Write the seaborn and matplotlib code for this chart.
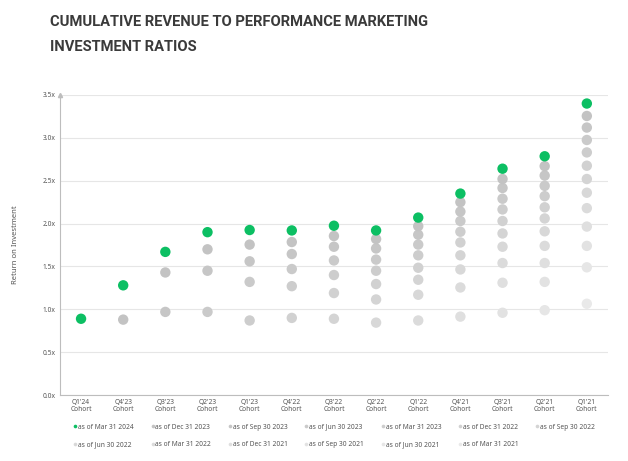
import matplotlib
matplotlib.use("Agg")
import matplotlib.pyplot as plt
import matplotlib.colors as mcolors
import numpy as np
import pandas as pd
import seaborn as sns

# cohorts (left to right) and snapshot dates (newest first)
cohorts = ["Q1'24", "Q4'23", "Q3'23", "Q2'23", "Q1'23", "Q4'22", "Q3'22",
           "Q2'22", "Q1'22", "Q4'21", "Q3'21", "Q2'21", "Q1'21"]
snapshots = ["as of Mar 31 2024", "as of Dec 31 2023", "as of Sep 30 2023",
             "as of Jun 30 2023", "as of Mar 31 2023", "as of Dec 31 2022",
             "as of Sep 30 2022", "as of Jun 30 2022", "as of Mar 31 2022",
             "as of Dec 31 2021", "as of Sep 30 2021", "as of Jun 30 2021",
             "as of Mar 31 2021"]

# ROI per cohort, newest snapshot first
roi_q1_24 = [0.89]
roi_q4_23 = [1.28, 0.88]
roi_q3_23 = [1.67, 1.43, 0.97]
roi_q2_23 = [1.90, 1.70, 1.45, 0.97]
roi_q1_23 = [1.925, 1.755, 1.56, 1.32, 0.87]
roi_q4_22 = [1.92, 1.785, 1.645, 1.47, 1.27, 0.90]
roi_q3_22 = [1.975, 1.855, 1.73, 1.57, 1.40, 1.19, 0.89]
roi_q2_22 = [1.92, 1.82, 1.71, 1.58, 1.45, 1.295, 1.115, 0.845]
roi_q1_22 = [2.07, 1.97, 1.87, 1.755, 1.63, 1.485, 1.345, 1.17, 0.87]
roi_q4_21 = [2.35, 2.25, 2.14, 2.03, 1.905, 1.78, 1.63, 1.465, 1.255, 0.915]
roi_q3_21 = [2.64, 2.52, 2.415, 2.29, 2.165, 2.03, 1.885, 1.73, 1.54, 1.31, 0.96]
roi_q2_21 = [2.785, 2.67, 2.56, 2.44, 2.32, 2.19, 2.06, 1.91, 1.74, 1.54, 1.32, 0.99]
roi_q1_21 = [3.40, 3.255, 3.12, 2.975, 2.83, 2.675, 2.52, 2.36, 2.18, 1.965,
             1.74, 1.49, 1.065]

roi_lists = [roi_q1_24, roi_q4_23, roi_q3_23, roi_q2_23, roi_q1_23, roi_q4_22,
             roi_q3_22, roi_q2_22, roi_q1_22, roi_q4_21, roi_q3_21, roi_q2_21,
             roi_q1_21]

rows = []
for cohort, vals in zip(cohorts, roi_lists):
    for i, v in enumerate(vals):
        rows.append({"cohort": cohort, "snapshot": snapshots[i], "snap_idx": i, "roi": v})
df = pd.DataFrame(rows)
df["cx"] = df["cohort"].map({c: i for i, c in enumerate(cohorts)})
# oldest drawn first so the newest ends up on top
df = df.sort_values("snap_idx", ascending=False)

green = "#0cbf63"
grays = [mcolors.to_hex(c) for c in
         np.linspace(mcolors.to_rgb("#c3c3c3"), mcolors.to_rgb("#e9e9e9"), 12)]
palette = dict(zip(snapshots, [green] + grays))

sns.set_style("white")
plt.rcParams['font.family'] = ['Noto Sans', 'DejaVu Sans']

fig = plt.figure(figsize=(6.28, 4.61), dpi=100)
ax = fig.add_axes([0.0955, 0.143, 0.8725, 0.651])

sns.scatterplot(data=df, x="cx", y="roi", hue="snapshot", hue_order=snapshots,
                palette=palette, s=56, linewidth=0, ax=ax, legend=True, zorder=3)

ax.set_xlim(-0.5, 12.5)
ax.set_ylim(0, 3.5)
ax.set_yticks(np.arange(0, 3.51, 0.5))
ax.set_yticklabels([f"{t:.1f}x" for t in np.arange(0, 3.51, 0.5)],
                   fontsize=4.8, color="#555555")
ax.set_xticks(range(len(cohorts)))
ax.set_xticklabels([f"{c}\nCohort" for c in cohorts], fontsize=4.8,
                   color="#555555", linespacing=1.0)
ax.tick_params(axis="both", length=0, pad=3)
ax.set_xlabel("")
ax.set_ylabel("Return on Investment", fontsize=5.5, color="#555555", labelpad=17)
ax.yaxis.grid(True, color="#e6e6e6", linewidth=0.8)
ax.set_axisbelow(True)
for side in ["top", "right"]:
    ax.spines[side].set_visible(False)
ax.spines["left"].set_color("#bdbdbd")
ax.spines["bottom"].set_color("#bdbdbd")
ax.spines["left"].set_linewidth(0.8)
ax.spines["bottom"].set_linewidth(0.8)
ax.plot(0, 1, marker="^", color="#bdbdbd", markersize=3,
        transform=ax.transAxes, clip_on=False)

# legend, row-major over 7 columns
handles, labels = ax.get_legend_handles_labels()
order = [0, 7, 1, 8, 2, 9, 3, 10, 4, 11, 5, 12, 6]
ax.legend([handles[i] for i in order], [labels[i] for i in order],
          ncol=7, loc="upper left", bbox_to_anchor=(0.012, -0.075),
          frameon=False, fontsize=4.8, markerscale=0.35, handletextpad=0.0,
          columnspacing=2.45, labelspacing=1.6, labelcolor="#555555",
          handlelength=0.8)

fig.text(0.08, 0.968, "CUMULATIVE REVENUE TO PERFORMANCE MARKETING\nINVESTMENT RATIOS",
         fontsize=10.6, fontweight="bold", color="#3a3a3a", family="Roboto",
         va="top", ha="left", linespacing=2.0)

fig.savefig("out.png", dpi=100)
